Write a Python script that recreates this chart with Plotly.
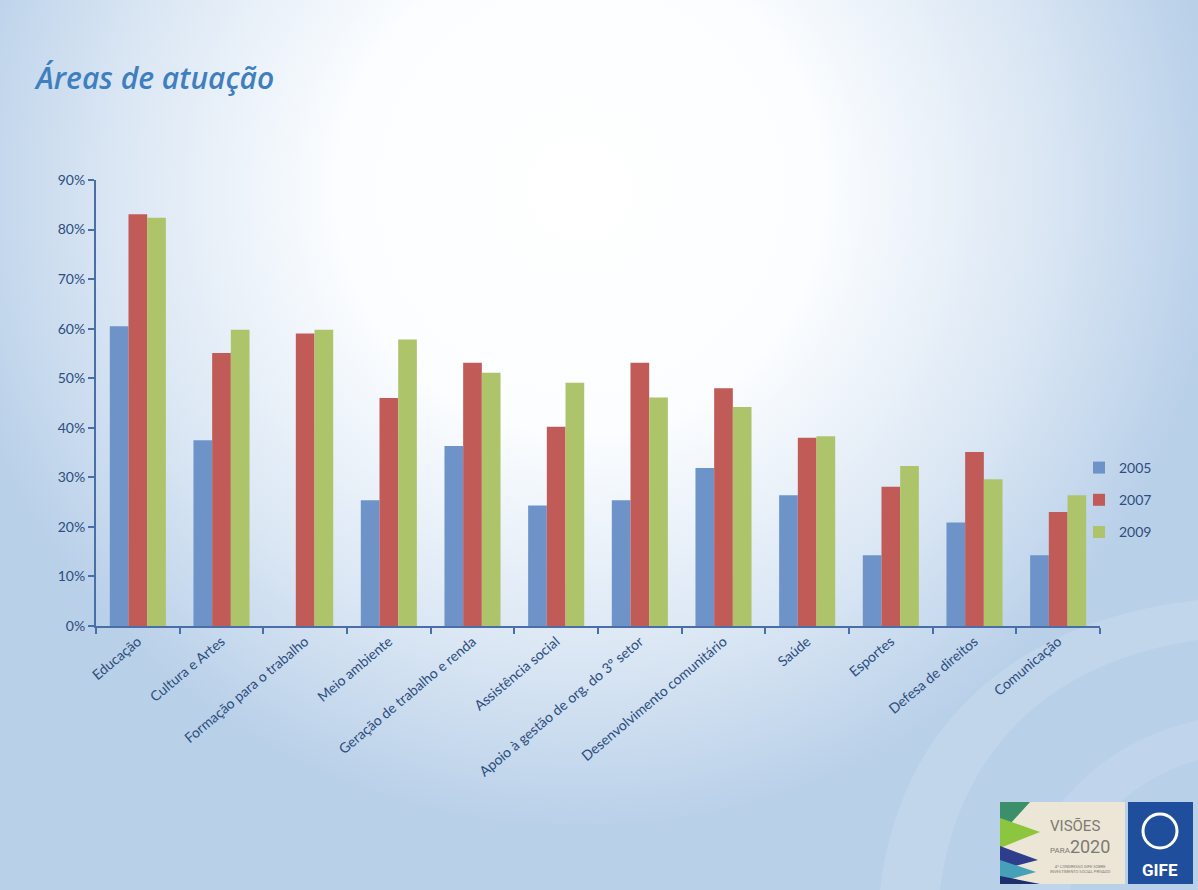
import base64
import plotly.graph_objects as go

categories = ["Educação", "Cultura e Artes", "Formação para o trabalho", "Meio ambiente",
              "Geração de trabalho e renda", "Assistência social",
              "Apoio à gestão de org. do 3º setor", "Desenvolvimento comunitário",
              "Saúde", "Esportes", "Defesa de direitos", "Comunicação"]
years = ["2005", "2007", "2009"]
v2005 = [60.5, 37.5, None, 25.4, 36.3, 24.3, 25.4, 31.9, 26.4, 14.3, 20.9, 14.3]
v2007 = [83.1, 55.1, 59.0, 46.0, 53.1, 40.2, 53.1, 48.0, 38.0, 28.1, 35.1, 23.0]
v2009 = [82.4, 59.8, 59.8, 57.8, 51.1, 49.1, 46.1, 44.2, 38.3, 32.3, 29.6, 26.4]
yticks = [0, 10, 20, 30, 40, 50, 60, 70, 80, 90]
yticklabels = ["0%", "10%", "20%", "30%", "40%", "50%", "60%", "70%", "80%", "90%"]

colors = ["#6e93c8", "#c15b57", "#aec46b"]
W, H = 1198, 890
L, R, T, B = 96, 98, 180, 264
PW, PH = W - L - R, H - T - B

def px(x):
    return (x - L) / PW

def py(y):
    return (H - B - y) / PH

svg = f"""<svg xmlns='http://www.w3.org/2000/svg' width='{W}' height='{H}' viewBox='0 0 {W} {H}'>
<defs>
<radialGradient id='g' cx='580' cy='190' r='640' gradientUnits='userSpaceOnUse'>
<stop offset='0' stop-color='#ffffff'/>
<stop offset='0.38' stop-color='#fbfdff'/>
<stop offset='0.72' stop-color='#dbe7f4'/>
<stop offset='1' stop-color='#b9d0e9'/>
</radialGradient>
</defs>
<rect width='{W}' height='{H}' fill='url(#g)'/>
<path d='M 880 890 C 900 720 1020 620 1198 600 L 1198 640 C 1060 660 960 740 940 890 Z' fill='#ffffff' fill-opacity='0.12'/>
<path d='M 1020 890 C 1040 800 1110 740 1198 720 L 1198 760 C 1130 780 1080 830 1070 890 Z' fill='#ffffff' fill-opacity='0.10'/>
</svg>"""
src = "data:image/svg+xml;base64," + base64.b64encode(svg.encode()).decode()

fig = go.Figure()
for name, vals, c in zip(years, [v2005, v2007, v2009], colors):
    fig.add_trace(go.Bar(name=name, x=categories, y=vals, marker_color=c,
                         marker_line_width=0, legendgroup=name))

font_lbl = dict(family="Lato, Open Sans, sans-serif", size=14, color="#2d4e7e")

fig.update_layout(
    width=W, height=H,
    margin=dict(l=L, r=R, t=T, b=B, autoexpand=False),
    paper_bgcolor="#d6e4f3",
    plot_bgcolor="rgba(0,0,0,0)",
    barmode="group", bargap=0.33, bargroupgap=0,
    showlegend=True,
    legend=dict(x=px(1079), y=py(452), xanchor="left", yanchor="top",
                font=dict(family="Lato, Open Sans, sans-serif", size=14, color="#2d4e7e"),
                bgcolor="rgba(0,0,0,0)", itemwidth=30, tracegroupgap=11),
    xaxis=dict(showgrid=False, showline=True, linecolor="#4a6fa8", linewidth=2,
               ticks="outside", tickson="boundaries", ticklen=6, tickcolor="#4a6fa8",
               tickwidth=2, tickangle=-40, tickfont=font_lbl),
    yaxis=dict(range=[0, 90], tickmode="array", tickvals=yticks, ticktext=yticklabels,
               showgrid=False, showline=True, linecolor="#4a6fa8", linewidth=2,
               ticks="outside", ticklen=6, tickcolor="#4a6fa8", tickwidth=2,
               zeroline=False, tickfont=font_lbl),
    images=[dict(source=src, xref="paper", yref="paper", x=px(0), y=py(0),
                 sizex=W / PW, sizey=H / PH, sizing="stretch", layer="below",
                 xanchor="left", yanchor="top")],
    font=dict(family="Lato, Open Sans, sans-serif"),
)

# Title
fig.add_annotation(text="<i>Áreas de atuação</i>", xref="paper", yref="paper",
                   x=px(32), y=py(77), xanchor="left", yanchor="middle", showarrow=False,
                   font=dict(family="Open Sans, sans-serif", size=30, color="#3f7fbf",
                             weight=600))

# Logos (decorative)
shapes = []
shapes.append(dict(type="rect", xref="paper", yref="paper", x0=px(1000), x1=px(1125),
                   y0=py(884), y1=py(802), fillcolor="#ece6d6", line_width=0, layer="above"))
stripes = [("#3b8f6a", [(1000, 802), (1030, 802), (1000, 835)]),
           ("#8cc63f", [(1000, 818), (1040, 832), (1000, 848)]),
           ("#2e3d8c", [(1000, 846), (1038, 860), (1000, 870)]),
           ("#46a0b8", [(1000, 860), (1036, 872), (1000, 882)]),
           ("#1f2f6e", [(1000, 876), (1040, 884), (1000, 884)])]
for col, pts in stripes:
    path = "M " + " L ".join(f"{px(a)},{py(b)}" for a, b in pts) + " Z"
    shapes.append(dict(type="path", xref="paper", yref="paper", path=path,
                       fillcolor=col, line_width=0, layer="above"))
shapes.append(dict(type="rect", xref="paper", yref="paper", x0=px(1128), x1=px(1193),
                   y0=py(884), y1=py(802), fillcolor="#1f4e9c", line_width=0, layer="above"))
shapes.append(dict(type="circle", xref="paper", yref="paper", x0=px(1143), x1=px(1177),
                   y0=py(848), y1=py(814), fillcolor="rgba(0,0,0,0)",
                   line=dict(color="white", width=3), layer="above"))
fig.update_layout(shapes=shapes)
fig.add_annotation(text="VISÕES", xref="paper", yref="paper", x=px(1048), y=py(826),
                   xanchor="left", yanchor="middle", showarrow=False,
                   font=dict(family="Roboto, sans-serif", size=15, color="#7d7a72"))
fig.add_annotation(text="<span style='font-size:8px'>PARA</span>2020", xref="paper", yref="paper",
                   x=px(1048), y=py(846), xanchor="left", yanchor="middle", showarrow=False,
                   font=dict(family="Roboto, sans-serif", size=18, color="#7d7a72"))
fig.add_annotation(text="4º CONGRESSO GIFE SOBRE<br>INVESTIMENTO SOCIAL PRIVADO", xref="paper",
                   yref="paper", x=px(1048), y=py(869), xanchor="left", yanchor="middle",
                   showarrow=False, font=dict(family="Roboto, sans-serif", size=4, color="#7d7a72"))
fig.add_annotation(text="<b>GIFE</b>", xref="paper", yref="paper", x=px(1160), y=py(870),
                   xanchor="center", yanchor="middle", showarrow=False,
                   font=dict(family="Roboto, sans-serif", size=17, color="white"))

fig.write_html("out.html", config={"displayModeBar": False},
               post_script="document.body.style.margin='0';document.body.style.overflow='hidden';")
